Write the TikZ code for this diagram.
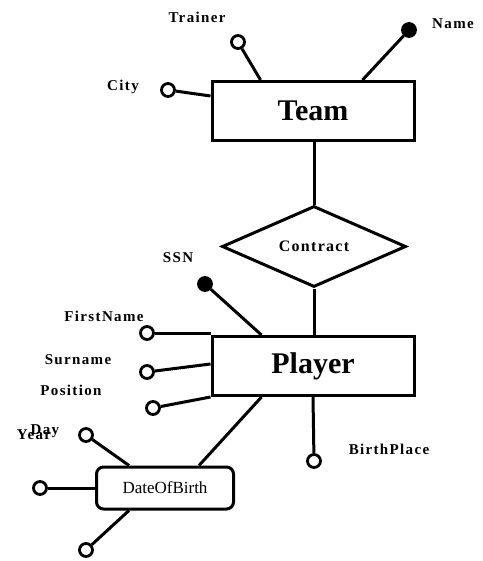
\documentclass[tikz,border=0pt]{standalone}
\usepackage{fontspec}
\setmainfont{Liberation Serif}
\usetikzlibrary{shapes.geometric,calc}
\tikzset{
  ln/.style={line width=3pt},
  ent/.style={draw,line width=3pt,rectangle,minimum width=202pt,minimum height=59pt,inner sep=0pt,
    font=\fontsize{30}{32}\selectfont\bfseries},
  rel/.style={draw,line width=3pt,diamond,aspect=2.27,minimum width=184pt,minimum height=81pt,inner sep=0pt,
    font=\fontsize{16}{18}\selectfont\bfseries\addfontfeatures{LetterSpace=8}},
  comp/.style={draw,line width=3pt,rectangle,rounded corners=7pt,minimum width=137pt,minimum height=42pt,inner sep=0pt,
    font=\fontsize{17}{19}\selectfont},
  att/.style={draw,line width=2.8pt,circle,inner sep=0pt,minimum size=13pt,fill=white},
  key/.style={att,fill=black},
  lab/.style={inner sep=0pt,font=\fontsize{15}{17}\selectfont\bfseries\addfontfeatures{LetterSpace=9}},
}
\begin{document}
\begin{tikzpicture}[x=1pt,y=-1pt]
\useasboundingbox (0,0) rectangle (482,561);
% entities and relation
\node[ent] (team) at (313,111) {Team};
\node[rel] (contract) at (314,246.5) {Contract};
\node[ent] (player) at (313,366) {Player};
\node[comp] (dob) at (165,488) {DateOfBirth};
% attribute circles
\node[att] (trainer) at (238,42) {};
\node[key] (name) at (409,30) {};
\node[att] (city) at (168,90) {};
\node[key] (ssn) at (205,284) {};
\node[att] (first) at (147,333) {};
\node[att] (sur) at (147,372) {};
\node[att] (pos) at (153,408) {};
\node[att] (birth) at (314,461) {};
\node[att] (day) at (86,435) {};
\node[att] (year) at (40,488) {};
\node[att] (month) at (86,550) {};
% labels
\node[lab] (ltrainer) at (197,17) {Trainer};
\node[lab] (lname) at (453,24) {Name};
\node[lab] (lcity) at (123,87) {City};
\node[lab] (lssn) at (178,258) {SSN};
\node[lab] (lfirst) at (104,316) {FirstName};
\node[lab] (lsur) at (78,360) {Surname};
\node[lab] (lpos) at (71,390) {Position};
\node[lab] (lbirth) at (389,449) {BirthPlace};
\node[lab] (lyear) at (34,435) {Year};
\node[lab] (lday) at (45,431) {Day};
% connectors
\draw[ln] (team.south -| contract.north) -- (contract.north);
\draw[ln] (contract.south) -- (player.north -| contract.south);
\draw[ln] (trainer) -- ($(team.north west)+(50,0)$);
\draw[ln] (name) -- ($(team.north west)+(152,0)$);
\draw[ln] (city) -- ($(team.north west)+(0,16)$);
\draw[ln] (ssn) -- ($(player.north west)+(51,0)$);
\draw[ln] (first) -- ($(player.north west)+(0,-2)$);
\draw[ln] (sur) -- ($(player.west)+(0,-2)$);
\draw[ln] (pos) -- (player.south west);
\draw[ln] (birth) -- (player.south);
\draw[ln] ($(player.south west)+(51,0)$) -- ($(dob.north west)+(104,0)$);
\draw[ln] (day) -- ($(dob.north west)+(34,0)$);
\draw[ln] (year) -- (dob.west);
\draw[ln] (month) -- ($(dob.south west)+(34,0)$);
\end{tikzpicture}
\end{document}
